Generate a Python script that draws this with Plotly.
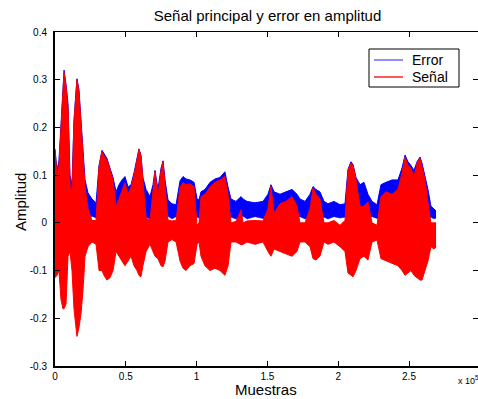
import plotly.graph_objects as go

# x positions in units of 1e5 samples
muestras = [0.000, 0.014, 0.028, 0.042, 0.056, 0.064, 0.078, 0.092, 0.106, 0.120,
            0.134, 0.148, 0.155, 0.169, 0.184, 0.198, 0.212, 0.233, 0.261, 0.290,
            0.311, 0.332, 0.346, 0.367, 0.388, 0.410, 0.431, 0.452, 0.473, 0.494,
            0.516, 0.537, 0.558, 0.579, 0.593, 0.607, 0.621, 0.643, 0.671, 0.692,
            0.706, 0.727, 0.749, 0.763, 0.777, 0.798, 0.826, 0.855, 0.883, 0.904,
            0.925, 0.953, 0.982, 1.003, 1.017, 1.031, 1.059, 1.095, 1.130, 1.165,
            1.200, 1.222, 1.243, 1.278, 1.314, 1.328, 1.356, 1.412, 1.469, 1.504,
            1.525, 1.547, 1.589, 1.631, 1.674, 1.709, 1.730, 1.766, 1.801, 1.822,
            1.843, 1.871, 1.900, 1.928, 1.970, 2.013, 2.048, 2.069, 2.090, 2.105,
            2.126, 2.154, 2.182, 2.210, 2.239, 2.274, 2.302, 2.338, 2.380, 2.422,
            2.451, 2.472, 2.493, 2.514, 2.535, 2.557, 2.578, 2.592, 2.613, 2.634,
            2.655, 2.677, 2.691]

senal_sup = [0.150, 0.100, 0.120, 0.200, 0.290, 0.315, 0.285, 0.240, 0.080, 0.060,
             0.210, 0.270, 0.300, 0.275, 0.200, 0.153, 0.076, 0.030, 0.005, 0.005,
             0.118, 0.150, 0.140, 0.132, 0.110, 0.090, 0.034, 0.050, 0.070, 0.084,
             0.060, 0.075, 0.100, 0.130, 0.153, 0.140, 0.090, 0.010, 0.006, 0.060,
             0.107, 0.055, 0.110, 0.128, 0.080, 0.006, 0.004, 0.005, 0.075, 0.084,
             0.080, 0.082, 0.076, -0.005, 0.000, 0.055, 0.060, 0.075, 0.085, 0.090,
             0.097, 0.060, 0.000, 0.003, 0.027, 0.000, 0.004, 0.005, 0.004, 0.030,
             0.076, 0.020, 0.040, 0.045, 0.055, 0.035, 0.000, 0.000, 0.030, 0.073,
             0.060, 0.050, 0.000, 0.000, 0.005, -0.005, 0.005, 0.110, 0.125, 0.120,
             0.090, 0.034, 0.035, 0.044, 0.000, -0.005, 0.055, 0.065, 0.060, 0.070,
             0.105, 0.138, 0.120, 0.115, 0.096, 0.125, 0.136, 0.120, 0.090, 0.042,
             0.000, 0.000, 0.000]

senal_inf = [-0.115, -0.110, -0.100, -0.160, -0.180, -0.180, -0.170, -0.070, -0.060, -0.100,
             -0.180, -0.220, -0.238, -0.220, -0.190, -0.140, -0.070, -0.050, -0.040, -0.045,
             -0.100, -0.100, -0.110, -0.120, -0.115, -0.100, -0.060, -0.070, -0.080, -0.090,
             -0.080, -0.070, -0.090, -0.100, -0.110, -0.113, -0.090, -0.060, -0.045, -0.060,
             -0.070, -0.075, -0.090, -0.092, -0.080, -0.040, -0.035, -0.040, -0.080, -0.095,
             -0.100, -0.090, -0.085, -0.045, -0.040, -0.070, -0.090, -0.100, -0.095, -0.100,
             -0.110, -0.090, -0.040, -0.040, -0.046, -0.045, -0.040, -0.045, -0.040, -0.060,
             -0.070, -0.055, -0.060, -0.065, -0.070, -0.060, -0.040, -0.040, -0.050, -0.075,
             -0.078, -0.070, -0.040, -0.045, -0.040, -0.050, -0.060, -0.105, -0.110, -0.113,
             -0.100, -0.075, -0.070, -0.078, -0.040, -0.036, -0.075, -0.080, -0.085, -0.090,
             -0.100, -0.110, -0.105, -0.100, -0.110, -0.115, -0.120, -0.120, -0.100, -0.080,
             -0.050, -0.055, -0.050]

error_sup = [0.155, 0.110, 0.130, 0.205, 0.295, 0.320, 0.290, 0.250, 0.100, 0.080,
             0.215, 0.275, 0.302, 0.280, 0.205, 0.160, 0.090, 0.063, 0.050, 0.042,
             0.120, 0.152, 0.145, 0.135, 0.115, 0.095, 0.065, 0.080, 0.090, 0.097,
             0.075, 0.080, 0.105, 0.132, 0.155, 0.142, 0.095, 0.070, 0.055, 0.080,
             0.110, 0.070, 0.115, 0.130, 0.090, 0.048, 0.040, 0.038, 0.088, 0.097,
             0.092, 0.090, 0.085, 0.050, 0.048, 0.065, 0.070, 0.085, 0.092, 0.095,
             0.107, 0.075, 0.050, 0.045, 0.055, 0.050, 0.045, 0.042, 0.045, 0.060,
             0.080, 0.065, 0.060, 0.065, 0.070, 0.060, 0.050, 0.045, 0.060, 0.076,
             0.070, 0.065, 0.045, 0.040, 0.045, 0.038, 0.040, 0.112, 0.128, 0.122,
             0.095, 0.080, 0.085, 0.060, 0.045, 0.038, 0.080, 0.085, 0.090, 0.090,
             0.115, 0.142, 0.128, 0.120, 0.110, 0.128, 0.138, 0.125, 0.100, 0.070,
             0.035, 0.030, 0.025]

error_inf = [0.010, 0.010, 0.010, 0.010, 0.010, 0.010, 0.010, 0.010, 0.010, 0.010,
             0.010, 0.010, 0.010, 0.010, 0.010, 0.010, 0.012, 0.008, 0.014, 0.010,
             0.010, 0.010, 0.010, 0.010, 0.010, 0.010, 0.012, 0.010, 0.010, 0.010,
             0.010, 0.010, 0.010, 0.010, 0.010, 0.010, 0.010, 0.012, 0.008, 0.010,
             0.010, 0.010, 0.010, 0.010, 0.010, 0.014, 0.008, 0.013, 0.010, 0.010,
             0.010, 0.010, 0.010, 0.012, 0.010, 0.010, 0.010, 0.010, 0.010, 0.010,
             0.010, 0.010, 0.012, 0.008, 0.012, 0.014, 0.008, 0.013, 0.009, 0.010,
             0.010, 0.010, 0.010, 0.010, 0.010, 0.010, 0.013, 0.008, 0.010, 0.010,
             0.010, 0.010, 0.012, 0.008, 0.013, 0.010, 0.012, 0.010, 0.010, 0.010,
             0.010, 0.010, 0.010, 0.010, 0.013, 0.009, 0.010, 0.010, 0.010, 0.010,
             0.010, 0.010, 0.010, 0.010, 0.010, 0.010, 0.010, 0.010, 0.010, 0.010,
             0.012, 0.008, 0.010]

x_ticks = [0, 0.5, 1, 1.5, 2, 2.5]
x_ticktext = ["0", "0.5", "1", "1.5", "2", "2.5"]
y_ticks = [-0.3, -0.2, -0.1, 0, 0.1, 0.2, 0.3, 0.4]
y_ticktext = ["-0.3", "-0.2", "-0.1", "0", "0.1", "0.2", "0.3", "0.4"]
legend_labels = ["Error", "Señal"]

AZUL = "#0000ff"
ROJO = "#ff0000"
FONT = "Liberation Sans, Arial, sans-serif"

fig = go.Figure()
fig.add_trace(go.Scatter(x=muestras, y=error_inf, mode="lines",
                         line=dict(color=AZUL, width=0.5), showlegend=False, hoverinfo="skip"))
fig.add_trace(go.Scatter(x=muestras, y=error_sup, mode="lines", fill="tonexty",
                         fillcolor=AZUL, line=dict(color=AZUL, width=1),
                         showlegend=False, hoverinfo="skip", name=legend_labels[0]))
fig.add_trace(go.Scatter(x=muestras, y=senal_inf, mode="lines",
                         line=dict(color=ROJO, width=1), showlegend=False, hoverinfo="skip"))
fig.add_trace(go.Scatter(x=muestras, y=senal_sup, mode="lines", fill="tonexty",
                         fillcolor=ROJO, line=dict(color=ROJO, width=1),
                         showlegend=False, hoverinfo="skip", name=legend_labels[1]))
# mirrored axes carrier
fig.add_trace(go.Scatter(x=[None], y=[None], xaxis="x2", yaxis="y2",
                         showlegend=False, hoverinfo="skip"))

W, H = 478, 399
L, R, T, B = 55, 0, 32, 33
PW, PH = W - L - R, H - T - B


def px(xp):
    return (xp - L) / PW


def py(yp):
    return (H - B - yp) / PH


# legend box drawn as layout decoration (MATLAB style)
shapes = [
    dict(type="rect", xref="paper", yref="paper", x0=px(369), x1=px(459),
         y0=py(87), y1=py(49), line=dict(color="black", width=1),
         fillcolor="white", layer="above"),
    dict(type="line", xref="paper", yref="paper", x0=px(374), x1=px(403),
         y0=py(60), y1=py(60), line=dict(color="#6a6aff", width=1.5), layer="above"),
    dict(type="line", xref="paper", yref="paper", x0=px(374), x1=px(403),
         y0=py(77), y1=py(77), line=dict(color="#ff2020", width=1.5), layer="above"),
]

fig.update_layout(
    width=W, height=H,
    margin=dict(l=L, r=R, t=T, b=B, pad=0, autoexpand=False),
    paper_bgcolor="white", plot_bgcolor="white",
    font=dict(family=FONT, color="black", size=10),
    showlegend=False,
    shapes=shapes,
    title=dict(text="Señal principal y error en amplitud", x=(L + 480) / 2 / W,
               xanchor="center", y=1 - 16 / H, yanchor="middle",
               font=dict(size=15, family=FONT)),
    xaxis=dict(range=[0, PW / 141.6], tickvals=x_ticks, ticktext=x_ticktext,
               ticks="inside", ticklen=5, tickcolor="black", showline=True,
               linecolor="black", linewidth=2, showgrid=False, zeroline=False,
               tickfont=dict(size=10), ticklabelstandoff=0, automargin=False),
    yaxis=dict(range=[-0.3, 0.4], tickvals=y_ticks, ticktext=y_ticktext,
               ticks="inside", ticklen=5, tickcolor="black", showline=True,
               linecolor="black", linewidth=2, showgrid=False, zeroline=False,
               tickfont=dict(size=10), ticklabelstandoff=4, automargin=False),
    xaxis2=dict(overlaying="x", matches="x", side="top", anchor="y",
                tickvals=x_ticks, ticks="inside", ticklen=5, tickcolor="black",
                showticklabels=False, showline=True, linecolor="black", linewidth=1,
                showgrid=False, zeroline=False, automargin=False),
    yaxis2=dict(overlaying="y", matches="y", side="right", anchor="x",
                tickvals=y_ticks, ticks="inside", ticklen=5, tickcolor="black",
                showticklabels=False, showline=False, showgrid=False, zeroline=False,
                automargin=False),
    annotations=[
        dict(text="Muestras", x=px(266), y=py(389), xref="paper",
             yref="paper", showarrow=False, xanchor="center", yanchor="middle",
             font=dict(size=15, family=FONT)),
        dict(text="Amplitud", x=px(20), y=py(202), xref="paper", yref="paper",
             showarrow=False, xanchor="center", yanchor="middle", textangle=-90,
             font=dict(size=15, family=FONT)),
        dict(text="x 10<sup>5</sup>", x=px(456), y=py(380), xref="paper",
             yref="paper", showarrow=False, xanchor="left", yanchor="middle",
             font=dict(size=9, family=FONT)),
        dict(text=legend_labels[0], x=px(410), y=py(60), xref="paper", yref="paper",
             showarrow=False, xanchor="left", yanchor="middle",
             font=dict(size=14, family=FONT)),
        dict(text=legend_labels[1], x=px(410), y=py(77), xref="paper", yref="paper",
             showarrow=False, xanchor="left", yanchor="middle",
             font=dict(size=14, family=FONT)),
    ],
)

fig.write_html("out.html", config={"displayModeBar": False},
               post_script="document.body.style.margin='0';"
                           "document.body.style.overflow='hidden';")
